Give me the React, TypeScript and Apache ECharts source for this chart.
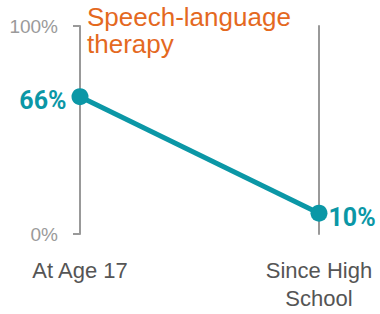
import React, { useEffect, useRef } from "react";
import * as echarts from "echarts";

const categories = ["At Age 17", "Since High\nSchool"];
const values = [66, 10];
const yTicks = [0, 100];
const titleLines = ["Speech-language", "therapy"];

const TEAL = "#0B97A6";
const ORANGE = "#E4691F";
const FONT = "Liberation Sans, Arial, sans-serif";
const BOLDFONT = "Roboto, Liberation Sans, sans-serif";

export default function App() {
  const ref = useRef<HTMLDivElement>(null);
  useEffect(() => {
    if (!ref.current) return;
    const chart = echarts.init(ref.current, undefined, { renderer: "svg" });
    chart.setOption({
      animation: false,
      textStyle: { fontFamily: FONT },
      grid: { left: 80, right: 61, top: 26, bottom: 80, containLabel: false },
      graphic: titleLines.map((t, i) => ({
        type: "text",
        left: 87,
        top: 3 + i * 27,
        style: {
          text: t,
          fill: ORANGE,
          font: "26px " + FONT,
          lineHeight: 27,
        },
      })),
      xAxis: {
        type: "category",
        data: categories,
        boundaryGap: false,
        axisLine: { show: false },
        axisTick: { show: false },
        splitLine: { show: false },
        axisLabel: {
          color: "#555555",
          fontSize: 22,
          margin: 22,
          lineHeight: 28,
          verticalAlign: "top",
          interval: 0,
        },
      },
      yAxis: [
        {
          type: "value",
          min: yTicks[0],
          max: yTicks[1],
          interval: 100,
          position: "left",
          axisLine: { show: true, lineStyle: { color: "#999999", width: 2 } },
          axisTick: { show: true, length: 7, lineStyle: { color: "#999999", width: 2 } },
          splitLine: { show: false },
          axisLabel: {
            color: "#9A9A9A",
            fontSize: 19,
            margin: 22,
            formatter: (v: number) => v + "%",
          },
        },
        {
          type: "value",
          min: yTicks[0],
          max: yTicks[1],
          interval: 100,
          position: "right",
          axisLine: { show: true, lineStyle: { color: "#999999", width: 2 } },
          axisTick: { show: false },
          splitLine: { show: false },
          axisLabel: { show: false },
        },
      ],
      series: [
        {
          type: "line",
          yAxisIndex: 0,
          clip: false,
          symbol: "circle",
          symbolSize: 17,
          lineStyle: { color: TEAL, width: 5 },
          itemStyle: { color: TEAL },
          label: {
            show: true,
            formatter: (p: any) => p.value + "%",
            color: TEAL,
            fontWeight: "bold",
            fontFamily: BOLDFONT,
            fontSize: 25,
            offset: [0, 4],
          },
          data: values.map((v, i) => ({
            value: v,
            label: i === 0 ? { position: "left", distance: 5 } : { position: "right", distance: 1 },
          })),
        },
      ],
    });
    return () => chart.dispose();
  }, []);
  return (
    <div
      ref={ref}
      style={{ position: "absolute", left: 0, top: 0, width: 380, height: 314 }}
    />
  );
}
